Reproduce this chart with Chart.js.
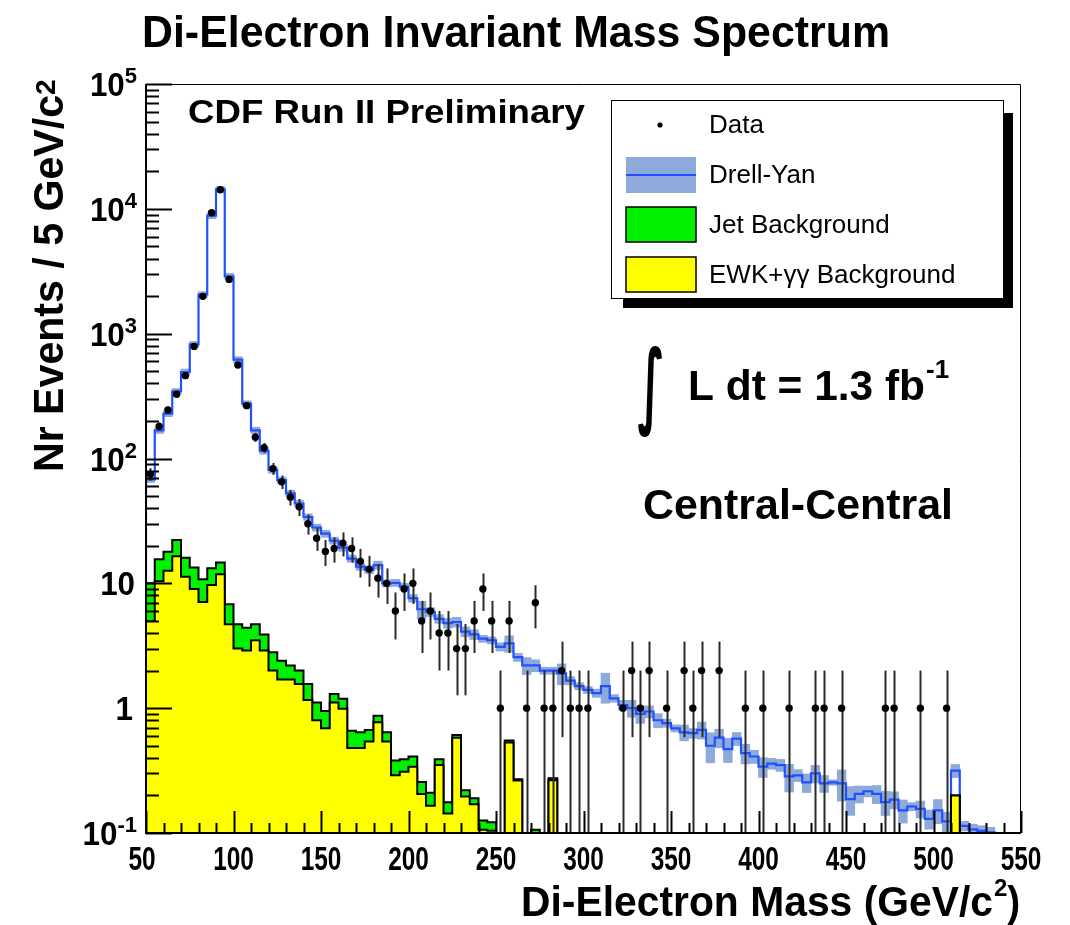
<!DOCTYPE html>
<html>
<head>
<meta charset="utf-8">
<script src="https://cdn.jsdelivr.net/npm/chart.js@4.4.1/dist/chart.umd.min.js"></script>
<style>
  html, body { margin: 0; padding: 0; background: #fff; }
  canvas { display: block; }
</style>
</head>
<body>
<canvas id="spectrum" width="1070" height="925"></canvas>
<script>
// 5 GeV bins from 50 to 550 GeV/c^2
const binLow = 50;
const binWidth = 5;

// observed events per bin
const dataCounts = [
  75, 181, 245, 327, 461, 791, 1990, 9300, 14200, 2720,
  561, 265, 148, 122, 83, 65, 49, 41, 30, 23,
  18, 19, 21, 19, 15, 13, 11, 10, 6, 9,
  10, 5, 6, 4, 4, 3, 3, 5, 9, 5,
  1, 5, 0, 1, 7, 1, 1, 2, 1, 1,
  1, 0, 0, 0, 1, 2, 1, 2, 0, 1,
  0, 2, 1, 2, 0, 2, 0, 0, 1, 0,
  1, 0, 0, 1, 0, 0, 1, 1, 0, 1,
  0, 0, 0, 0, 1, 1, 0, 0, 1, 0,
  0, 1, 0, 0, 0, 0, 0, 0, 0, 0
];

// Drell-Yan prediction (blue line)
const drellYan = [
  68, 168, 229, 345, 493, 820, 2060, 8830, 14300, 2880,
  620, 275, 168, 115, 81, 67, 52.5, 43.6, 34, 28,
  25, 22, 19.3, 15.8, 13.6, 12.8, 14, 10, 10.1, 9.4,
  7.6, 6.2, 5.9, 5.2, 4.8, 4.9, 4.1, 3.9, 3.6, 3.5,
  3.1, 3.3, 2.56, 2.2, 2.2, 2.0, 2.0, 1.9, 1.66, 1.5,
  1.4, 1.32, 1.5, 1.2, 1.06, 1.0, 0.9, 0.94, 0.8, 0.76,
  0.69, 0.64, 0.63, 0.67, 0.5, 0.58, 0.47, 0.57, 0.436, 0.41,
  0.34, 0.36, 0.35, 0.284, 0.29, 0.254, 0.30, 0.25, 0.254, 0.25,
  0.187, 0.206, 0.216, 0.206, 0.177, 0.185, 0.152, 0.163, 0.156, 0.13,
  0.152, 0.124, 0.316, 0.114, 0.107, 0.104, 0.101, 0, 0, 0
];

// relative half-width of the Drell-Yan uncertainty band
const dyRelErr = [
  .055, .055, .055, .055, .055, .055, .055, .055, .055, .055,
  .055, .055, .06, .06, .06, .06, .06, .06, .06, .065,
  .065, .065, .065, .065, .065, .065, .075, .065, .065, .065,
  .07, .16, .08, .08, .09, .09, .09, .09, .065, .065,
  .075, .15, .075, .155, .11, .065, .065, .19, .075, .065,
  .065, .075, .27, .07, .09, .155, .16, .11, .13, .075,
  .065, .145, .09, .155, .27, .17, .22, .12, .18, .12,
  .18, .10, .11, .25, .11, .17, .16, .155, .05, .28,
  .26, .155, .10, .165, .22, .155, .21, .075, .155, .175,
  .22, .18, .12, .09, .10, .10, .10, 0, 0, 0
];

// EWK + gamma-gamma background (yellow)
const ewkGamma = [
  5.0, 10.4, 12.6, 16.5, 11.3, 9.0, 7.1, 9.7, 11.8, 4.7,
  3.0, 2.9, 3.5, 2.9, 2.0, 1.7, 1.7, 1.56, 1.16, 0.80,
  0.69, 1.11, 0.99, 0.48, 0.48, 0.54, 0.77, 0.54, 0.29, 0.31,
  0.34, 0.205, 0.165, 0.35, 0.143, 0.58, 0.196, 0.17, 0.106, 0.104,
  0, 0.53, 0.263, 0, 0, 0, 0.265, 0, 0, 0,
  0, 0, 0, 0, 0, 0, 0, 0, 0, 0,
  0, 0, 0, 0, 0, 0, 0, 0, 0, 0,
  0, 0, 0, 0, 0, 0, 0, 0, 0, 0,
  0, 0, 0, 0, 0, 0, 0, 0, 0, 0,
  0, 0, 0.2, 0, 0, 0, 0, 0, 0, 0
];

// jet background (green), stacked on top of EWK
const jetBkg = [
  5.0, 5.2, 5.3, 5.7, 4.7, 4.4, 3.7, 3.5, 2.9, 2.1,
  1.7, 1.5, 1.2, 1.0, 0.8, 0.7, 0.5, 0.44, 0.4, 0.31,
  0.26, 0.19, 0.2, 0.18, 0.16, 0.13, 0.1, 0.1, 0.09, 0.08,
  0.07, 0.051, 0.045, 0.04, 0.033, 0.03, 0.024, 0.02, 0.02, 0.018,
  0, 0.02, 0.007, 0, 0.106, 0, 0.01, 0, 0, 0,
  0, 0, 0, 0, 0, 0, 0, 0, 0, 0,
  0, 0, 0, 0, 0, 0, 0, 0, 0, 0,
  0, 0, 0, 0, 0, 0, 0, 0, 0, 0,
  0, 0, 0, 0, 0, 0, 0, 0, 0, 0,
  0, 0, 0, 0, 0, 0, 0, 0, 0, 0
];

const xTicks = [50, 100, 150, 200, 250, 300, 350, 400, 450, 500, 550];
const yDecades = [-1, 0, 1, 2, 3, 4, 5];

const FLOOR = 0.01; // below the axis minimum, so empty bins drop out of view
const nBins = dataCounts.length;
const centers = dataCounts.map((_, i) => binLow + binWidth * (i + 0.5));
const stackTop = ewkGamma.map((v, i) => v + jetBkg[i]);

// histogram outline: a point at each bin's left edge, stepped
function steps(vals) {
  const pts = [{ x: binLow, y: FLOOR }];
  vals.forEach((v, i) => pts.push({ x: binLow + binWidth * i, y: v > 0 ? v : FLOOR }));
  pts.push({ x: binLow + binWidth * nBins, y: FLOOR });
  return pts;
}

const bandPoints = [];
drellYan.forEach((v, i) => {
  if (v > 0) bandPoints.push({ x: centers[i], y: [v * (1 - dyRelErr[i]), v * (1 + dyRelErr[i])] });
});

const dataPoints = [];
dataCounts.forEach((n, i) => { if (n > 0) dataPoints.push({ x: centers[i], y: n }); });

const FONT = '"Liberation Sans", Arial, Helvetica, sans-serif';

function say(ctx, s, x, y, size, opt) {
  opt = opt || {};
  ctx.save();
  ctx.font = (opt.bold === false ? '' : 'bold ') + size + 'px ' + (opt.family || FONT);
  const w = ctx.measureText(s).width;
  const sx = opt.width ? opt.width / w : (opt.sx || 1);
  ctx.translate(x, y);
  if (opt.rot) ctx.rotate(opt.rot);
  ctx.scale(sx, 1);
  ctx.textAlign = opt.align || 'left';
  ctx.textBaseline = 'alphabetic';
  ctx.fillStyle = opt.color || '#000';
  ctx.fillText(s, 0, 0);
  ctx.restore();
  return w * sx;
}

function textWidth(ctx, s, size, bold) {
  ctx.save();
  ctx.font = (bold === false ? '' : 'bold ') + size + 'px ' + FONT;
  const w = ctx.measureText(s).width;
  ctx.restore();
  return w;
}

// fit a glyph's ink box into a given rectangle
function fitBox(ctx, s, x0, y0, x1, y1, font) {
  ctx.save();
  ctx.font = font;
  const m = ctx.measureText(s);
  const w = m.actualBoundingBoxLeft + m.actualBoundingBoxRight;
  const h = m.actualBoundingBoxAscent + m.actualBoundingBoxDescent;
  ctx.translate(x0, y0);
  ctx.scale((x1 - x0) / w, (y1 - y0) / h);
  ctx.textAlign = 'left';
  ctx.textBaseline = 'alphabetic';
  ctx.fillStyle = '#000';
  ctx.fillText(s, m.actualBoundingBoxLeft, m.actualBoundingBoxAscent);
  ctx.restore();
}

const errorBars = {
  id: 'errorBars',
  beforeDatasetDraw(chart, args) {
    if (chart.data.datasets[args.index].label !== 'Data') return;
    const { ctx, chartArea: a } = chart;
    const xs = chart.scales.x, ys = chart.scales.y;
    ctx.save();
    ctx.beginPath();
    ctx.rect(a.left, a.top, a.right - a.left, a.bottom - a.top);
    ctx.clip();
    ctx.strokeStyle = '#2a2a2a';
    ctx.lineWidth = 2;
    dataCounts.forEach((n, i) => {
      if (n <= 0) return;
      const err = Math.sqrt(n); // Poisson error
      const px = Math.round(xs.getPixelForValue(centers[i])) + 0.5;
      const top = ys.getPixelForValue(n + err);
      const bot = n - err > 0 ? ys.getPixelForValue(n - err) : a.bottom + 5;
      ctx.beginPath();
      ctx.moveTo(px, top);
      ctx.lineTo(px, bot);
      ctx.stroke();
    });
    ctx.restore();
  }
};

const frame = {
  id: 'frame',
  afterDraw(chart) {
    const { ctx, chartArea: a } = chart;
    const xs = chart.scales.x, ys = chart.scales.y;
    ctx.save();

    // thin top/right border
    ctx.strokeStyle = '#000';
    ctx.lineWidth = 1;
    ctx.beginPath();
    ctx.moveTo(a.left, a.top + 0.5); ctx.lineTo(a.right - 0.5, a.top + 0.5); ctx.lineTo(a.right - 0.5, a.bottom);
    ctx.stroke();

    // axes
    ctx.lineWidth = 2;
    ctx.beginPath();
    ctx.moveTo(a.left, a.top); ctx.lineTo(a.left, a.bottom); ctx.lineTo(a.right, a.bottom);
    ctx.stroke();

    // y ticks (inside)
    ctx.lineWidth = 2;
    ctx.beginPath();
    yDecades.forEach(k => {
      const py = Math.round(ys.getPixelForValue(Math.pow(10, k))) + 0.5;
      ctx.moveTo(a.left, py); ctx.lineTo(a.left + 26, py);
      if (k < 5) {
        for (let m = 2; m <= 9; m++) {
          const q = Math.round(ys.getPixelForValue(m * Math.pow(10, k))) + 0.5;
          ctx.moveTo(a.left, q); ctx.lineTo(a.left + 13, q);
        }
      }
    });
    // x ticks (inside)
    for (let v = 50; v <= 550; v += 10) {
      const px = Math.round(xs.getPixelForValue(v)) + 0.5;
      const len = v % 50 === 0 ? 22 : 10;
      ctx.moveTo(px, a.bottom); ctx.lineTo(px, a.bottom - len);
    }
    ctx.stroke();

    // y tick labels 10^k
    yDecades.forEach(k => {
      const py = ys.getPixelForValue(Math.pow(10, k));
      const base = k === 0 ? '1' : '10';
      const sup = (k === 0 || k === 1) ? '' : String(k);
      let right = k === 0 ? 133 : 135;
      if (sup) {
        const w = textWidth(ctx, sup, 22);
        say(ctx, sup, 137 - w, py - 1, 22);
        right = 137 - w;
      }
      say(ctx, base, right, py + 12, 33, { align: 'right', sx: 0.95 });
    });

    // x tick labels
    xTicks.forEach((v, i) => {
      const px = xs.getPixelForValue(v) - (i === 0 ? 4 : 0);
      say(ctx, String(v), px, 870, 33, { align: 'center', sx: 0.74 });
    });

    // axis titles
    say(ctx, 'Nr Events / 5 GeV/c', 63, 472, 42, { rot: -Math.PI / 2, width: 377 });
    say(ctx, '2', 55, 95, 28, { rot: -Math.PI / 2 });
    const wx = say(ctx, 'Di-Electron Mass (GeV/c', 521, 916, 43, { width: 472 });
    const w2 = say(ctx, '2', 521 + wx + 1, 896, 24);
    say(ctx, ')', 521 + wx + w2 + 1, 916, 43, { sx: 0.9 });

    // title and annotations
    say(ctx, 'Di-Electron Invariant Mass Spectrum', 142, 47, 45, { width: 748 });
    say(ctx, 'CDF Run II Preliminary', 188, 123, 33, { width: 397 });
    fitBox(ctx, '\u222B', 638, 345, 662, 437, 'bold 100px "DejaVu Sans", sans-serif');
    const wl = say(ctx, 'L dt = 1.3 fb', 688, 400, 42, { width: 237 });
    say(ctx, '-1', 688 + wl + 1, 378, 26);
    say(ctx, 'Central-Central', 643, 519, 42, { width: 310 });

    // legend box with shadow
    ctx.fillStyle = '#000';
    ctx.fillRect(623, 113, 390, 195);
    ctx.fillStyle = '#fff';
    ctx.fillRect(611, 100, 393, 199);
    ctx.lineWidth = 1;
    ctx.strokeStyle = '#000';
    ctx.strokeRect(611.5, 100.5, 392, 198);

    ctx.fillStyle = '#000';
    ctx.beginPath(); ctx.arc(660, 125, 2.6, 0, Math.PI * 2); ctx.fill();

    ctx.fillStyle = '#8eaadb';
    ctx.fillRect(626, 157, 70, 36);
    ctx.strokeStyle = '#2050ff'; ctx.lineWidth = 2;
    ctx.beginPath(); ctx.moveTo(626, 175); ctx.lineTo(696, 175); ctx.stroke();

    ctx.strokeStyle = '#000'; ctx.lineWidth = 1.5;
    ctx.fillStyle = '#00f000';
    ctx.fillRect(626, 207, 70, 35); ctx.strokeRect(626, 207, 70, 35);
    ctx.fillStyle = '#ffff00';
    ctx.fillRect(626, 257, 70, 35); ctx.strokeRect(626, 257, 70, 35);

    say(ctx, 'Data', 709, 133, 26, { bold: false });
    say(ctx, 'Drell-Yan', 709, 183, 26, { bold: false });
    say(ctx, 'Jet Background', 709, 233, 26, { bold: false });
    say(ctx, 'EWK+\u03B3\u03B3 Background', 709, 283, 26, { bold: false });

    ctx.restore();
  }
};

const ctx = document.getElementById('spectrum').getContext('2d');
const chart = new Chart(ctx, {
  type: 'line',
  data: {
    datasets: [
      {
        label: 'Data',
        type: 'scatter',
        data: dataPoints,
        pointRadius: 3.7,
        pointBackgroundColor: '#000',
        pointBorderWidth: 0,
        showLine: false,
        order: 1,
        clip: 0
      },
      {
        label: 'EWK+\u03B3\u03B3 Background',
        data: steps(ewkGamma),
        stepped: true,
        borderColor: '#000',
        borderWidth: 2,
        backgroundColor: '#ffff00',
        fill: 'start',
        pointRadius: 0,
        order: 2,
        clip: 0
      },
      {
        label: 'Jet Background',
        data: steps(stackTop),
        stepped: true,
        borderColor: '#000',
        borderWidth: 2,
        backgroundColor: '#00f000',
        fill: 'start',
        pointRadius: 0,
        order: 3,
        clip: 0
      },
      {
        label: 'Drell-Yan',
        data: steps(drellYan),
        stepped: true,
        borderColor: '#2050ff',
        borderWidth: 2.2,
        fill: false,
        pointRadius: 0,
        order: 4,
        clip: 0
      },
      {
        label: 'Drell-Yan band',
        type: 'bar',
        data: bandPoints,
        backgroundColor: '#8eaadb',
        borderWidth: 0,
        barPercentage: 1,
        categoryPercentage: 1,
        grouped: false,
        order: 5,
        clip: 0
      }
    ]
  },
  options: {
    responsive: false,
    animation: false,
    devicePixelRatio: 1,
    layout: { padding: { left: 146, right: 49, top: 84, bottom: 92 } },
    plugins: {
      legend: { display: false },
      tooltip: { enabled: false },
      title: { display: false }
    },
    scales: {
      x: { type: 'linear', min: 50, max: 550, offset: false, display: false, ticks: { stepSize: 50 } },
      y: { type: 'logarithmic', min: 0.1, max: 100000, display: false }
    }
  },
  plugins: [errorBars, frame]
});
</script>
</body>
</html>
